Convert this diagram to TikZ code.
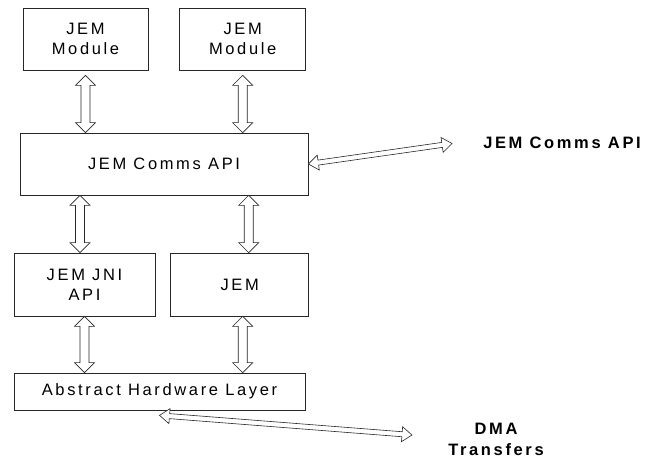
\documentclass[tikz,border=0pt]{standalone}
\usepackage{fontspec}
\setmainfont[LetterSpace=16]{Liberation Sans}
\usetikzlibrary{calc, positioning}

\begin{document}
\begin{tikzpicture}[
        x=1pt, y=-1pt,
        node distance=31pt,
        block/.style={rectangle, draw=black!85, line width=0.7pt,
                      inner sep=0pt, align=center,
                      font=\fontsize{16.5}{20}\selectfont},
        tag/.style={align=center, font=\fontsize{16.5}{21}\selectfont\bfseries},
        link/.style n args={3}{draw=black!85, line width=0.6pt, fill=white,
          to path={
            -- ($(\tikztostart)!#1!(\tikztotarget)!#2!90:(\tikztotarget)$)
            -- ($(\tikztostart)!#1!(\tikztotarget)!#3!90:(\tikztotarget)$)
            -- ($(\tikztotarget)!#1!(\tikztostart)!#3!-90:(\tikztostart)$)
            -- ($(\tikztotarget)!#1!(\tikztostart)!#2!-90:(\tikztostart)$)
            -- (\tikztotarget)
            -- ($(\tikztotarget)!#1!(\tikztostart)!#2!90:(\tikztostart)$)
            -- ($(\tikztotarget)!#1!(\tikztostart)!#3!90:(\tikztostart)$)
            -- ($(\tikztostart)!#1!(\tikztotarget)!#3!-90:(\tikztotarget)$)
            -- ($(\tikztostart)!#1!(\tikztotarget)!#2!-90:(\tikztotarget)$)
            -- cycle}},
        fat/.style={link={10pt}{10pt}{4.5pt}},
        thin/.style={link={10pt}{7.5pt}{2.5pt}}
      ]
        \useasboundingbox (0,0) rectangle (650,460);
        % boxes
        \node[block, minimum width=125pt, minimum height=62pt] (mod1) at (85.5,39) {JEM\\Module};
        \node[block, minimum width=126pt, minimum height=62pt, right=of mod1] (mod2) {JEM\\Module};
        \node[block, minimum width=288pt, minimum height=62pt] (comms) at (164,164) {JEM Comms API};
        \node[block, minimum width=141pt, minimum height=63pt] (jni) at (84.5,284.5) {JEM JNI\\API};
        \node[block, minimum width=138pt, minimum height=63pt, right=15pt of jni] (jem) {JEM};
        \node[block, minimum width=291pt, minimum height=37pt] (ahl) at (159.5,391.5) {Abstract Hardware Layer};
        % outside labels
        \node[tag] (commslbl) at (562,143) {JEM Comms API};
        \node[tag] (dmalbl) at (496,439.5) {DMA\\Transfers};
        \coordinate (commstip) at (452,143.5);
        \coordinate (dmatip) at (412,435);
        % vertical links
        \draw[fat] ([yshift=-5pt]mod1.south) to (mod1.south |- comms.north);
        \draw[fat] ([yshift=-5pt]mod2.south) to (mod2.south |- comms.north);
        \draw[fat] ([xshift=-4.5pt]jni.north |- comms.south) to ([xshift=-4.5pt]jni.north);
        \draw[fat] ([xshift=9pt]jem.north |- comms.south) to ([xshift=9pt]jem.north);
        \draw[fat] (jni.south) to (jni.south |- ahl.north);
        \draw[fat] ([xshift=3pt]jem.south) to ([xshift=3pt]jem.south |- ahl.north);
        % diagonal links
        \draw[thin] (comms.east) to (commstip);
        \draw[thin] ([yshift=-5pt]ahl.south) to (dmatip);
      \end{tikzpicture}
\end{document}
